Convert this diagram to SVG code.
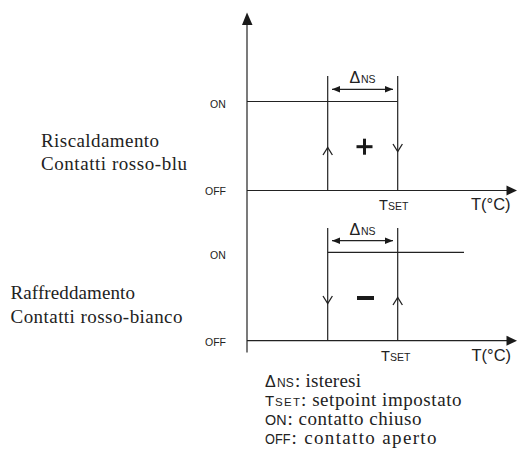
<svg xmlns="http://www.w3.org/2000/svg" width="518" height="456" viewBox="0 0 518 456">
<defs>
<style>
.ln{stroke:#222;stroke-width:1.2;fill:none}
.fl{fill:#1a1a1a;stroke:none}
.chev{stroke:#222;stroke-width:1.3;fill:none}
.sans{font-family:"Liberation Sans",Arial,sans-serif;fill:#222}
.serif{font-family:"Liberation Serif","Times New Roman",serif;fill:#222}
.s10{font-size:10.5px}
.lbl{font-size:19px}
</style>
<marker id="ah" viewBox="0 0 10 8" refX="10" refY="4" markerWidth="8" markerHeight="7" markerUnits="userSpaceOnUse" orient="auto-start-reverse">
<path d="M0,0 L10,4 L0,8 Z" fill="#1a1a1a"/>
</marker>
</defs>
<rect width="518" height="456" fill="#fff"/>

<g id="axes">
<line class="ln" x1="247" y1="24" x2="247" y2="352.5"/>
<polygon class="fl" points="247,12.5 242,25 252.5,25"/>
<line class="ln" x1="247" y1="190.5" x2="508" y2="190.5"/>
<polygon class="fl" points="517,190.5 506.5,185.5 506.5,195.5"/>
<line class="ln" x1="247" y1="340.7" x2="508" y2="340.7"/>
<polygon class="fl" points="517,340.7 506.5,335.7 506.5,345.7"/>
</g>

<g id="heating">
<line class="ln" x1="247" y1="101.5" x2="397.7" y2="101.5"/>
<line class="ln" x1="327.7" y1="76" x2="327.7" y2="190.5"/>
<line class="ln" x1="397.7" y1="76" x2="397.7" y2="190.5"/>
<line class="ln" x1="332" y1="89.3" x2="393" y2="89.3" marker-start="url(#ah)" marker-end="url(#ah)"/>
<polyline class="chev" points="323,155 327.7,147.5 332.4,155"/>
<polyline class="chev" points="393,144 397.7,151.5 402.4,144"/>
<rect class="fl" x="356.5" y="145.2" width="16" height="3"/>
<rect class="fl" x="363" y="138.7" width="3" height="16"/>
</g>

<g id="cooling">
<line class="ln" x1="327.7" y1="252.3" x2="464" y2="252.3"/>
<line class="ln" x1="327.7" y1="228" x2="327.7" y2="340.7"/>
<line class="ln" x1="397.7" y1="228" x2="397.7" y2="340.7"/>
<line class="ln" x1="332" y1="240.7" x2="393" y2="240.7" marker-start="url(#ah)" marker-end="url(#ah)"/>
<polyline class="chev" points="323,296 327.7,303.5 332.4,296"/>
<polyline class="chev" points="393,305 397.7,297.5 402.4,305"/>
<rect class="fl" x="357" y="296" width="17" height="4"/>
</g>

<g id="labels">
<text class="sans" x="349.5" y="83" font-size="16">Δ</text>
<text class="sans s10" x="361" y="83">NS</text>
<text class="sans" x="349.5" y="235" font-size="16">Δ</text>
<text class="sans s10" x="361" y="235">NS</text>

<text class="sans s10" x="210" y="107.5">ON</text>
<text class="sans s10" x="205" y="195">OFF</text>
<text class="sans s10" x="210" y="259">ON</text>
<text class="sans s10" x="205" y="345.5">OFF</text>

<text class="sans" x="379" y="210" font-size="14.5">T</text>
<text class="sans s10" x="388" y="210">SET</text>
<text class="sans" x="471" y="210" font-size="16.5">T(°C)</text>
<text class="sans" x="381" y="360.5" font-size="14.5">T</text>
<text class="sans s10" x="390" y="360.5">SET</text>
<text class="sans" x="471.5" y="361" font-size="16.5">T(°C)</text>

<text class="serif lbl" x="41" y="147" textLength="118">Riscaldamento</text>
<text class="serif lbl" x="41" y="170" textLength="146">Contatti rosso-blu</text>
<text class="serif lbl" x="10.5" y="299" textLength="124.5">Raffreddamento</text>
<text class="serif lbl" x="10.5" y="323" textLength="172">Contatti rosso-bianco</text>
</g>

<g id="legend">
<text class="sans" x="265" y="387" font-size="16">Δ</text>
<text class="sans" x="277" y="387" font-size="12">NS</text>
<text class="serif lbl" x="295" y="387" textLength="66">: isteresi</text>
<text class="sans" x="265" y="406" font-size="15">T</text>
<text class="sans" x="275" y="406" font-size="11.5" textLength="25">SET</text>
<text class="serif lbl" x="301" y="406" textLength="160.5">: setpoint impostato</text>
<text class="sans" x="265" y="425" font-size="14.5" textLength="21.5" lengthAdjust="spacingAndGlyphs">ON</text>
<text class="serif lbl" x="287.5" y="425" textLength="134">: contatto chiuso</text>
<text class="sans" x="265" y="444" font-size="14.5" textLength="25.5" lengthAdjust="spacingAndGlyphs">OFF</text>
<text class="serif lbl" x="291.5" y="444" textLength="145">: contatto aperto</text>
</g>
</svg>
